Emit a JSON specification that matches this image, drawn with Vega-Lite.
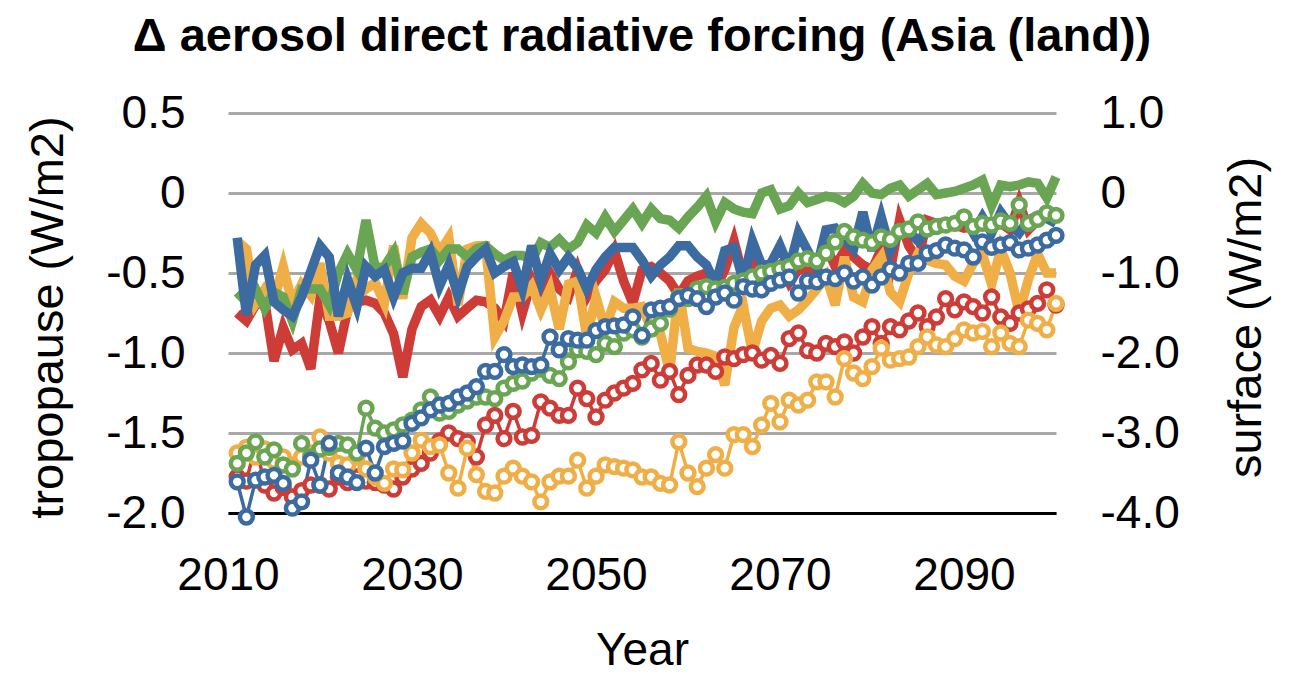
{
"$schema": "https://vega.github.io/schema/vega-lite/v6.json",
"width": 828,
"height": 400,
"autosize": {"type": "none"},
"padding": {"left": 228, "top": 113, "right": 235, "bottom": 161},
"background": "white",
"config": {"view": {"stroke": null}, "font": "Liberation Sans"},
"title": {"text": "Δ aerosol direct radiative forcing (Asia (land))", "fontSize": 47, "fontWeight": "bold", "font": "Liberation Sans", "color": "#000", "anchor": "middle", "frame": "group", "baseline": "alphabetic", "offset": -8},
"data": {"values": [
{"year":2011,"series":"red","tropopause":-0.75,"surface":-3.55},{"year":2012,"series":"red","tropopause":-0.80,"surface":-3.60},{"year":2013,"series":"red","tropopause":-0.70,"surface":-3.15},{"year":2014,"series":"red","tropopause":-0.68,"surface":-3.65},{"year":2015,"series":"red","tropopause":-1.05,"surface":-3.75},{"year":2016,"series":"red","tropopause":-0.84,"surface":-3.68},{"year":2017,"series":"red","tropopause":-0.98,"surface":-3.80},{"year":2018,"series":"red","tropopause":-0.94,"surface":-3.72},{"year":2019,"series":"red","tropopause":-1.10,"surface":-3.65},{"year":2020,"series":"red","tropopause":-0.66,"surface":-3.65},
{"year":2021,"series":"red","tropopause":-0.80,"surface":-3.70},{"year":2022,"series":"red","tropopause":-1.00,"surface":-3.55},{"year":2023,"series":"red","tropopause":-0.73,"surface":-3.62},{"year":2024,"series":"red","tropopause":-0.68,"surface":-3.55},{"year":2025,"series":"red","tropopause":-0.67,"surface":-3.60},{"year":2026,"series":"red","tropopause":-0.69,"surface":-3.62},{"year":2027,"series":"red","tropopause":-0.75,"surface":-3.65},{"year":2028,"series":"red","tropopause":-0.88,"surface":-3.70},{"year":2029,"series":"red","tropopause":-1.15,"surface":-3.55},{"year":2030,"series":"red","tropopause":-0.85,"surface":-3.45},
{"year":2031,"series":"red","tropopause":-0.71,"surface":-3.38},{"year":2032,"series":"red","tropopause":-0.67,"surface":-3.25},{"year":2033,"series":"red","tropopause":-0.77,"surface":-3.10},{"year":2034,"series":"red","tropopause":-0.65,"surface":-3.00},{"year":2035,"series":"red","tropopause":-0.77,"surface":-3.07},{"year":2036,"series":"red","tropopause":-0.72,"surface":-3.11},{"year":2037,"series":"red","tropopause":-0.67,"surface":-3.30},{"year":2038,"series":"red","tropopause":-0.68,"surface":-2.90},{"year":2039,"series":"red","tropopause":-0.72,"surface":-2.78},{"year":2040,"series":"red","tropopause":-0.80,"surface":-3.07},
{"year":2041,"series":"red","tropopause":-0.50,"surface":-2.73},{"year":2042,"series":"red","tropopause":-0.75,"surface":-3.05},{"year":2043,"series":"red","tropopause":-0.55,"surface":-3.03},{"year":2044,"series":"red","tropopause":-0.70,"surface":-2.61},{"year":2045,"series":"red","tropopause":-0.50,"surface":-2.69},{"year":2046,"series":"red","tropopause":-0.60,"surface":-2.78},{"year":2047,"series":"red","tropopause":-0.65,"surface":-2.78},{"year":2048,"series":"red","tropopause":-0.48,"surface":-2.44},{"year":2049,"series":"red","tropopause":-0.65,"surface":-2.57},{"year":2050,"series":"red","tropopause":-0.55,"surface":-2.80},
{"year":2051,"series":"red","tropopause":-0.48,"surface":-2.59},{"year":2052,"series":"red","tropopause":-0.36,"surface":-2.50},{"year":2053,"series":"red","tropopause":-0.55,"surface":-2.44},{"year":2054,"series":"red","tropopause":-0.69,"surface":-2.38},{"year":2055,"series":"red","tropopause":-0.48,"surface":-2.21},{"year":2056,"series":"red","tropopause":-0.46,"surface":-2.13},{"year":2057,"series":"red","tropopause":-0.50,"surface":-2.34},{"year":2058,"series":"red","tropopause":-0.55,"surface":-2.23},{"year":2059,"series":"red","tropopause":-0.64,"surface":-2.52},{"year":2060,"series":"red","tropopause":-0.55,"surface":-2.28},
{"year":2061,"series":"red","tropopause":-0.52,"surface":-2.15},{"year":2062,"series":"red","tropopause":-0.50,"surface":-2.15},{"year":2063,"series":"red","tropopause":-0.60,"surface":-2.23},{"year":2064,"series":"red","tropopause":-0.48,"surface":-2.05},{"year":2065,"series":"red","tropopause":-0.30,"surface":-2.07},{"year":2066,"series":"red","tropopause":-0.52,"surface":-2.02},{"year":2067,"series":"red","tropopause":-0.40,"surface":-2.00},{"year":2068,"series":"red","tropopause":-0.55,"surface":-2.09},{"year":2069,"series":"red","tropopause":-0.50,"surface":-2.03},{"year":2070,"series":"red","tropopause":-0.45,"surface":-2.13},
{"year":2071,"series":"red","tropopause":-0.56,"surface":-1.82},{"year":2072,"series":"red","tropopause":-0.48,"surface":-1.75},{"year":2073,"series":"red","tropopause":-0.47,"surface":-1.97},{"year":2074,"series":"red","tropopause":-0.48,"surface":-2.00},{"year":2075,"series":"red","tropopause":-0.33,"surface":-1.88},{"year":2076,"series":"red","tropopause":-0.46,"surface":-1.92},{"year":2077,"series":"red","tropopause":-0.36,"surface":-1.86},{"year":2078,"series":"red","tropopause":-0.40,"surface":-2.00},{"year":2079,"series":"red","tropopause":-0.45,"surface":-1.80},{"year":2080,"series":"red","tropopause":-0.48,"surface":-1.67},
{"year":2081,"series":"red","tropopause":-0.35,"surface":-1.88},{"year":2082,"series":"red","tropopause":-0.48,"surface":-1.67},{"year":2083,"series":"red","tropopause":-0.17,"surface":-1.71},{"year":2084,"series":"red","tropopause":-0.33,"surface":-1.60},{"year":2085,"series":"red","tropopause":-0.42,"surface":-1.50},{"year":2086,"series":"red","tropopause":-0.17,"surface":-1.67},{"year":2087,"series":"red","tropopause":-0.19,"surface":-1.55},{"year":2088,"series":"red","tropopause":-0.18,"surface":-1.32},{"year":2089,"series":"red","tropopause":-0.20,"surface":-1.46},{"year":2090,"series":"red","tropopause":-0.22,"surface":-1.36},
{"year":2091,"series":"red","tropopause":-0.21,"surface":-1.42},{"year":2092,"series":"red","tropopause":-0.20,"surface":-1.50},{"year":2093,"series":"red","tropopause":-0.22,"surface":-1.30},{"year":2094,"series":"red","tropopause":-0.19,"surface":-1.55},{"year":2095,"series":"red","tropopause":-0.23,"surface":-1.63},{"year":2096,"series":"red","tropopause":-0.06,"surface":-1.50},{"year":2097,"series":"red","tropopause":-0.23,"surface":-1.45},{"year":2098,"series":"red","tropopause":-0.17,"surface":-1.38},{"year":2099,"series":"red","tropopause":-0.13,"surface":-1.21},{"year":2100,"series":"red","tropopause":-0.15,"surface":-1.40},
{"year":2011,"series":"orange","tropopause":-0.30,"surface":-3.25},{"year":2012,"series":"orange","tropopause":-0.35,"surface":-3.18},{"year":2013,"series":"orange","tropopause":-0.69,"surface":-3.30},{"year":2014,"series":"orange","tropopause":-0.60,"surface":-3.20},{"year":2015,"series":"orange","tropopause":-0.67,"surface":-3.35},{"year":2016,"series":"orange","tropopause":-0.46,"surface":-3.30},{"year":2017,"series":"orange","tropopause":-0.69,"surface":-3.40},{"year":2018,"series":"orange","tropopause":-0.57,"surface":-3.30},{"year":2019,"series":"orange","tropopause":-0.64,"surface":-3.25},{"year":2020,"series":"orange","tropopause":-0.44,"surface":-3.05},
{"year":2021,"series":"orange","tropopause":-0.77,"surface":-3.25},{"year":2022,"series":"orange","tropopause":-0.77,"surface":-3.38},{"year":2023,"series":"orange","tropopause":-0.75,"surface":-3.40},{"year":2024,"series":"orange","tropopause":-0.54,"surface":-3.30},{"year":2025,"series":"orange","tropopause":-0.60,"surface":-3.45},{"year":2026,"series":"orange","tropopause":-0.56,"surface":-3.55},{"year":2027,"series":"orange","tropopause":-0.69,"surface":-3.63},{"year":2028,"series":"orange","tropopause":-0.33,"surface":-3.45},{"year":2029,"series":"orange","tropopause":-0.66,"surface":-3.46},{"year":2030,"series":"orange","tropopause":-0.28,"surface":-3.25},
{"year":2031,"series":"orange","tropopause":-0.19,"surface":-3.09},{"year":2032,"series":"orange","tropopause":-0.25,"surface":-3.17},{"year":2033,"series":"orange","tropopause":-0.37,"surface":-3.15},{"year":2034,"series":"orange","tropopause":-0.28,"surface":-3.50},{"year":2035,"series":"orange","tropopause":-0.70,"surface":-3.69},{"year":2036,"series":"orange","tropopause":-0.35,"surface":-3.19},{"year":2037,"series":"orange","tropopause":-0.33,"surface":-3.52},{"year":2038,"series":"orange","tropopause":-0.33,"surface":-3.73},{"year":2039,"series":"orange","tropopause":-0.90,"surface":-3.75},{"year":2040,"series":"orange","tropopause":-0.80,"surface":-3.54},
{"year":2041,"series":"orange","tropopause":-0.65,"surface":-3.44},{"year":2042,"series":"orange","tropopause":-0.65,"surface":-3.54},{"year":2043,"series":"orange","tropopause":-0.58,"surface":-3.61},{"year":2044,"series":"orange","tropopause":-0.73,"surface":-3.86},{"year":2045,"series":"orange","tropopause":-0.60,"surface":-3.61},{"year":2046,"series":"orange","tropopause":-0.85,"surface":-3.54},{"year":2047,"series":"orange","tropopause":-0.57,"surface":-3.54},{"year":2048,"series":"orange","tropopause":-0.55,"surface":-3.34},{"year":2049,"series":"orange","tropopause":-0.90,"surface":-3.69},{"year":2050,"series":"orange","tropopause":-0.65,"surface":-3.54},
{"year":2051,"series":"orange","tropopause":-0.85,"surface":-3.40},{"year":2052,"series":"orange","tropopause":-0.68,"surface":-3.42},{"year":2053,"series":"orange","tropopause":-0.72,"surface":-3.44},{"year":2054,"series":"orange","tropopause":-0.72,"surface":-3.46},{"year":2055,"series":"orange","tropopause":-0.71,"surface":-3.55},{"year":2056,"series":"orange","tropopause":-0.85,"surface":-3.55},{"year":2057,"series":"orange","tropopause":-0.88,"surface":-3.63},{"year":2058,"series":"orange","tropopause":-1.12,"surface":-3.65},{"year":2059,"series":"orange","tropopause":-0.60,"surface":-3.11},{"year":2060,"series":"orange","tropopause":-0.97,"surface":-3.50},
{"year":2061,"series":"orange","tropopause":-0.99,"surface":-3.67},{"year":2062,"series":"orange","tropopause":-1.00,"surface":-3.44},{"year":2063,"series":"orange","tropopause":-1.02,"surface":-3.27},{"year":2064,"series":"orange","tropopause":-1.20,"surface":-3.44},{"year":2065,"series":"orange","tropopause":-0.84,"surface":-3.02},{"year":2066,"series":"orange","tropopause":-0.70,"surface":-3.02},{"year":2067,"series":"orange","tropopause":-1.00,"surface":-3.17},{"year":2068,"series":"orange","tropopause":-0.80,"surface":-2.90},{"year":2069,"series":"orange","tropopause":-0.72,"surface":-2.63},{"year":2070,"series":"orange","tropopause":-0.70,"surface":-2.86},
{"year":2071,"series":"orange","tropopause":-0.77,"surface":-2.59},{"year":2072,"series":"orange","tropopause":-0.73,"surface":-2.65},{"year":2073,"series":"orange","tropopause":-0.67,"surface":-2.59},{"year":2074,"series":"orange","tropopause":-0.60,"surface":-2.36},{"year":2075,"series":"orange","tropopause":-0.52,"surface":-2.36},{"year":2076,"series":"orange","tropopause":-0.70,"surface":-2.55},{"year":2077,"series":"orange","tropopause":-0.40,"surface":-2.07},{"year":2078,"series":"orange","tropopause":-0.65,"surface":-2.25},{"year":2079,"series":"orange","tropopause":-0.68,"surface":-2.32},{"year":2080,"series":"orange","tropopause":-0.48,"surface":-2.17},
{"year":2081,"series":"orange","tropopause":-0.40,"surface":-1.94},{"year":2082,"series":"orange","tropopause":-0.62,"surface":-2.09},{"year":2083,"series":"orange","tropopause":-0.68,"surface":-2.07},{"year":2084,"series":"orange","tropopause":-0.50,"surface":-2.05},{"year":2085,"series":"orange","tropopause":-0.38,"surface":-1.92},{"year":2086,"series":"orange","tropopause":-0.42,"surface":-1.80},{"year":2087,"series":"orange","tropopause":-0.44,"surface":-1.90},{"year":2088,"series":"orange","tropopause":-0.45,"surface":-1.92},{"year":2089,"series":"orange","tropopause":-0.52,"surface":-1.82},{"year":2090,"series":"orange","tropopause":-0.55,"surface":-1.71},
{"year":2091,"series":"orange","tropopause":-0.44,"surface":-1.75},{"year":2092,"series":"orange","tropopause":-0.38,"surface":-1.73},{"year":2093,"series":"orange","tropopause":-0.57,"surface":-1.92},{"year":2094,"series":"orange","tropopause":-0.35,"surface":-1.75},{"year":2095,"series":"orange","tropopause":-0.50,"surface":-1.88},{"year":2096,"series":"orange","tropopause":-0.75,"surface":-1.92},{"year":2097,"series":"orange","tropopause":-0.54,"surface":-1.59},{"year":2098,"series":"orange","tropopause":-0.38,"surface":-1.63},{"year":2099,"series":"orange","tropopause":-0.50,"surface":-1.71},{"year":2100,"series":"orange","tropopause":-0.50,"surface":-1.38},
{"year":2011,"series":"green","tropopause":-0.62,"surface":-3.38},{"year":2012,"series":"green","tropopause":-0.68,"surface":-3.25},{"year":2013,"series":"green","tropopause":-0.60,"surface":-3.11},{"year":2014,"series":"green","tropopause":-0.72,"surface":-3.30},{"year":2015,"series":"green","tropopause":-0.62,"surface":-3.21},{"year":2016,"series":"green","tropopause":-0.65,"surface":-3.40},{"year":2017,"series":"green","tropopause":-0.80,"surface":-3.45},{"year":2018,"series":"green","tropopause":-0.60,"surface":-3.13},{"year":2019,"series":"green","tropopause":-0.60,"surface":-3.30},{"year":2020,"series":"green","tropopause":-0.60,"surface":-3.20},
{"year":2021,"series":"green","tropopause":-0.70,"surface":-3.18},{"year":2022,"series":"green","tropopause":-0.50,"surface":-3.13},{"year":2023,"series":"green","tropopause":-0.38,"surface":-3.15},{"year":2024,"series":"green","tropopause":-0.48,"surface":-3.25},{"year":2025,"series":"green","tropopause":-0.17,"surface":-2.69},{"year":2026,"series":"green","tropopause":-0.47,"surface":-2.94},{"year":2027,"series":"green","tropopause":-0.46,"surface":-3.00},{"year":2028,"series":"green","tropopause":-0.37,"surface":-2.96},{"year":2029,"series":"green","tropopause":-0.63,"surface":-2.90},{"year":2030,"series":"green","tropopause":-0.40,"surface":-2.84},
{"year":2031,"series":"green","tropopause":-0.37,"surface":-2.71},{"year":2032,"series":"green","tropopause":-0.35,"surface":-2.55},{"year":2033,"series":"green","tropopause":-0.42,"surface":-2.75},{"year":2034,"series":"green","tropopause":-0.35,"surface":-2.73},{"year":2035,"series":"green","tropopause":-0.35,"surface":-2.65},{"year":2036,"series":"green","tropopause":-0.40,"surface":-2.60},{"year":2037,"series":"green","tropopause":-0.35,"surface":-2.55},{"year":2038,"series":"green","tropopause":-0.33,"surface":-2.55},{"year":2039,"series":"green","tropopause":-0.38,"surface":-2.57},{"year":2040,"series":"green","tropopause":-0.42,"surface":-2.44},
{"year":2041,"series":"green","tropopause":-0.39,"surface":-2.38},{"year":2042,"series":"green","tropopause":-0.39,"surface":-2.35},{"year":2043,"series":"green","tropopause":-0.42,"surface":-2.25},{"year":2044,"series":"green","tropopause":-0.31,"surface":-2.20},{"year":2045,"series":"green","tropopause":-0.34,"surface":-2.28},{"year":2046,"series":"green","tropopause":-0.29,"surface":-2.32},{"year":2047,"series":"green","tropopause":-0.35,"surface":-2.11},{"year":2048,"series":"green","tropopause":-0.31,"surface":-1.96},{"year":2049,"series":"green","tropopause":-0.20,"surface":-1.98},{"year":2050,"series":"green","tropopause":-0.25,"surface":-2.02},
{"year":2051,"series":"green","tropopause":-0.15,"surface":-1.88},{"year":2052,"series":"green","tropopause":-0.24,"surface":-1.92},{"year":2053,"series":"green","tropopause":-0.17,"surface":-1.75},{"year":2054,"series":"green","tropopause":-0.10,"surface":-1.71},{"year":2055,"series":"green","tropopause":-0.19,"surface":-1.80},{"year":2056,"series":"green","tropopause":-0.10,"surface":-1.70},{"year":2057,"series":"green","tropopause":-0.16,"surface":-1.63},{"year":2058,"series":"green","tropopause":-0.17,"surface":-1.45},{"year":2059,"series":"green","tropopause":-0.22,"surface":-1.30},{"year":2060,"series":"green","tropopause":-0.15,"surface":-1.32},
{"year":2061,"series":"green","tropopause":-0.09,"surface":-1.20},{"year":2062,"series":"green","tropopause":-0.02,"surface":-1.17},{"year":2063,"series":"green","tropopause":-0.18,"surface":-1.20},{"year":2064,"series":"green","tropopause":-0.06,"surface":-1.18},{"year":2065,"series":"green","tropopause":-0.10,"surface":-1.13},{"year":2066,"series":"green","tropopause":-0.12,"surface":-1.10},{"year":2067,"series":"green","tropopause":-0.13,"surface":-1.05},{"year":2068,"series":"green","tropopause":0.00,"surface":-1.00},{"year":2069,"series":"green","tropopause":0.02,"surface":-0.98},{"year":2070,"series":"green","tropopause":-0.10,"surface":-0.95},
{"year":2071,"series":"green","tropopause":-0.08,"surface":-0.92},{"year":2072,"series":"green","tropopause":0.00,"surface":-0.85},{"year":2073,"series":"green","tropopause":-0.06,"surface":-0.82},{"year":2074,"series":"green","tropopause":-0.04,"surface":-0.85},{"year":2075,"series":"green","tropopause":-0.02,"surface":-0.75},{"year":2076,"series":"green","tropopause":-0.03,"surface":-0.61},{"year":2077,"series":"green","tropopause":-0.06,"surface":-0.48},{"year":2078,"series":"green","tropopause":-0.02,"surface":-0.55},{"year":2079,"series":"green","tropopause":0.06,"surface":-0.59},{"year":2080,"series":"green","tropopause":0.00,"surface":-0.62},
{"year":2081,"series":"green","tropopause":-0.01,"surface":-0.55},{"year":2082,"series":"green","tropopause":0.03,"surface":-0.58},{"year":2083,"series":"green","tropopause":0.05,"surface":-0.48},{"year":2084,"series":"green","tropopause":-0.02,"surface":-0.45},{"year":2085,"series":"green","tropopause":0.02,"surface":-0.36},{"year":2086,"series":"green","tropopause":0.06,"surface":-0.45},{"year":2087,"series":"green","tropopause":-0.01,"surface":-0.42},{"year":2088,"series":"green","tropopause":0.00,"surface":-0.40},{"year":2089,"series":"green","tropopause":0.01,"surface":-0.38},{"year":2090,"series":"green","tropopause":0.03,"surface":-0.30},
{"year":2091,"series":"green","tropopause":0.05,"surface":-0.42},{"year":2092,"series":"green","tropopause":0.08,"surface":-0.38},{"year":2093,"series":"green","tropopause":-0.08,"surface":-0.40},{"year":2094,"series":"green","tropopause":0.05,"surface":-0.35},{"year":2095,"series":"green","tropopause":0.04,"surface":-0.38},{"year":2096,"series":"green","tropopause":0.05,"surface":-0.15},{"year":2097,"series":"green","tropopause":0.07,"surface":-0.38},{"year":2098,"series":"green","tropopause":0.06,"surface":-0.33},{"year":2099,"series":"green","tropopause":-0.03,"surface":-0.25},{"year":2100,"series":"green","tropopause":0.10,"surface":-0.28},
{"year":2011,"series":"blue","tropopause":-0.28,"surface":-3.61},{"year":2012,"series":"blue","tropopause":-0.76,"surface":-4.05},{"year":2013,"series":"blue","tropopause":-0.45,"surface":-3.59},{"year":2014,"series":"blue","tropopause":-0.39,"surface":-3.55},{"year":2015,"series":"blue","tropopause":-0.68,"surface":-3.53},{"year":2016,"series":"blue","tropopause":-0.73,"surface":-3.63},{"year":2017,"series":"blue","tropopause":-0.77,"surface":-3.94},{"year":2018,"series":"blue","tropopause":-0.65,"surface":-3.86},{"year":2019,"series":"blue","tropopause":-0.49,"surface":-3.34},{"year":2020,"series":"blue","tropopause":-0.33,"surface":-3.65},
{"year":2021,"series":"blue","tropopause":-0.40,"surface":-3.13},{"year":2022,"series":"blue","tropopause":-0.77,"surface":-3.50},{"year":2023,"series":"blue","tropopause":-0.54,"surface":-3.55},{"year":2024,"series":"blue","tropopause":-0.71,"surface":-3.62},{"year":2025,"series":"blue","tropopause":-0.46,"surface":-3.19},{"year":2026,"series":"blue","tropopause":-0.52,"surface":-3.50},{"year":2027,"series":"blue","tropopause":-0.48,"surface":-3.17},{"year":2028,"series":"blue","tropopause":-0.65,"surface":-3.13},{"year":2029,"series":"blue","tropopause":-0.50,"surface":-3.10},{"year":2030,"series":"blue","tropopause":-0.47,"surface":-2.88},
{"year":2031,"series":"blue","tropopause":-0.47,"surface":-2.81},{"year":2032,"series":"blue","tropopause":-0.37,"surface":-2.71},{"year":2033,"series":"blue","tropopause":-0.58,"surface":-2.65},{"year":2034,"series":"blue","tropopause":-0.45,"surface":-2.63},{"year":2035,"series":"blue","tropopause":-0.64,"surface":-2.55},{"year":2036,"series":"blue","tropopause":-0.46,"surface":-2.50},{"year":2037,"series":"blue","tropopause":-0.40,"surface":-2.42},{"year":2038,"series":"blue","tropopause":-0.35,"surface":-2.23},{"year":2039,"series":"blue","tropopause":-0.50,"surface":-2.23},{"year":2040,"series":"blue","tropopause":-0.46,"surface":-2.02},
{"year":2041,"series":"blue","tropopause":-0.43,"surface":-2.17},{"year":2042,"series":"blue","tropopause":-0.60,"surface":-2.15},{"year":2043,"series":"blue","tropopause":-0.33,"surface":-2.17},{"year":2044,"series":"blue","tropopause":-0.55,"surface":-2.15},{"year":2045,"series":"blue","tropopause":-0.38,"surface":-1.80},{"year":2046,"series":"blue","tropopause":-0.48,"surface":-1.96},{"year":2047,"series":"blue","tropopause":-0.40,"surface":-1.82},{"year":2048,"series":"blue","tropopause":-0.47,"surface":-1.84},{"year":2049,"series":"blue","tropopause":-0.60,"surface":-1.84},{"year":2050,"series":"blue","tropopause":-0.48,"surface":-1.72},
{"year":2051,"series":"blue","tropopause":-0.40,"surface":-1.67},{"year":2052,"series":"blue","tropopause":-0.34,"surface":-1.66},{"year":2053,"series":"blue","tropopause":-0.34,"surface":-1.65},{"year":2054,"series":"blue","tropopause":-0.34,"surface":-1.55},{"year":2055,"series":"blue","tropopause":-0.42,"surface":-1.78},{"year":2056,"series":"blue","tropopause":-0.52,"surface":-1.46},{"year":2057,"series":"blue","tropopause":-0.45,"surface":-1.44},{"year":2058,"series":"blue","tropopause":-0.40,"surface":-1.42},{"year":2059,"series":"blue","tropopause":-0.33,"surface":-1.32},{"year":2060,"series":"blue","tropopause":-0.33,"surface":-1.28},
{"year":2061,"series":"blue","tropopause":-0.40,"surface":-1.32},{"year":2062,"series":"blue","tropopause":-0.45,"surface":-1.42},{"year":2063,"series":"blue","tropopause":-0.57,"surface":-1.30},{"year":2064,"series":"blue","tropopause":-0.36,"surface":-1.25},{"year":2065,"series":"blue","tropopause":-0.34,"surface":-1.34},{"year":2066,"series":"blue","tropopause":-0.55,"surface":-1.17},{"year":2067,"series":"blue","tropopause":-0.30,"surface":-1.20},{"year":2068,"series":"blue","tropopause":-0.45,"surface":-1.21},{"year":2069,"series":"blue","tropopause":-0.44,"surface":-1.13},{"year":2070,"series":"blue","tropopause":-0.33,"surface":-1.09},
{"year":2071,"series":"blue","tropopause":-0.47,"surface":-1.05},{"year":2072,"series":"blue","tropopause":-0.25,"surface":-1.25},{"year":2073,"series":"blue","tropopause":-0.36,"surface":-1.10},{"year":2074,"series":"blue","tropopause":-0.47,"surface":-1.11},{"year":2075,"series":"blue","tropopause":-0.23,"surface":-1.05},{"year":2076,"series":"blue","tropopause":-0.22,"surface":-1.07},{"year":2077,"series":"blue","tropopause":-0.29,"surface":-1.00},{"year":2078,"series":"blue","tropopause":-0.35,"surface":-1.10},{"year":2079,"series":"blue","tropopause":-0.12,"surface":-1.05},{"year":2080,"series":"blue","tropopause":-0.36,"surface":-1.15},
{"year":2081,"series":"blue","tropopause":-0.15,"surface":-1.05},{"year":2082,"series":"blue","tropopause":-0.36,"surface":-0.95},{"year":2083,"series":"blue","tropopause":-0.23,"surface":-1.00},{"year":2084,"series":"blue","tropopause":-0.24,"surface":-0.88},{"year":2085,"series":"blue","tropopause":-0.30,"surface":-0.88},{"year":2086,"series":"blue","tropopause":-0.24,"surface":-0.75},{"year":2087,"series":"blue","tropopause":-0.22,"surface":-0.72},{"year":2088,"series":"blue","tropopause":-0.19,"surface":-0.65},{"year":2089,"series":"blue","tropopause":-0.20,"surface":-0.69},{"year":2090,"series":"blue","tropopause":-0.15,"surface":-0.71},
{"year":2091,"series":"blue","tropopause":-0.25,"surface":-0.80},{"year":2092,"series":"blue","tropopause":-0.15,"surface":-0.61},{"year":2093,"series":"blue","tropopause":-0.25,"surface":-0.68},{"year":2094,"series":"blue","tropopause":-0.12,"surface":-0.65},{"year":2095,"series":"blue","tropopause":-0.20,"surface":-0.62},{"year":2096,"series":"blue","tropopause":-0.25,"surface":-0.71},{"year":2097,"series":"blue","tropopause":-0.17,"surface":-0.69},{"year":2098,"series":"blue","tropopause":-0.14,"surface":-0.65},{"year":2099,"series":"blue","tropopause":-0.16,"surface":-0.59},{"year":2100,"series":"blue","tropopause":-0.19,"surface":-0.53}
]},
"encoding": {
  "x": {"field": "year", "type": "quantitative", "scale": {"domain": [2010, 2100], "nice": false, "zero": false},
    "axis": {"values": [2010, 2030, 2050, 2070, 2090], "format": "d", "title": "Year", "grid": false, "ticks": false, "domainColor": "#000", "domainWidth": 3, "labelFontSize": 46, "labelColor": "#000", "labelPadding": 40, "labelFlush": false, "labelFont": "Liberation Sans", "titleFont": "Liberation Sans", "titleFontSize": 46, "titleFontWeight": "normal", "titleColor": "#000", "titleY": 151, "titleBaseline": "alphabetic"}},
  "color": {"field": "series", "type": "nominal", "scale": {"domain": ["red", "orange", "green", "blue"], "range": ["#CD3C36", "#F0AE47", "#6AA553", "#3C6BA2"]}, "legend": null}
},
"layer": [
  {
    "mark": {"type": "line", "strokeWidth": 9.5, "strokeJoin": "miter", "clip": false},
    "encoding": {
      "y": {"field": "tropopause", "type": "quantitative", "scale": {"domain": [-2, 0.5], "nice": false, "zero": false},
        "axis": {"title": "tropopause (W/m2)", "values": [-2, -1.5, -1, -0.5, 0, 0.5], "labelExpr": "datum.value == 0 ? '0' : replace(format(datum.value, '.1f'), '−', '-')", "grid": true, "gridColor": "#A8A8A8", "gridWidth": 3, "domain": false, "ticks": false, "labelFontSize": 46, "labelColor": "#000", "labelPadding": 43, "labelFont": "Liberation Sans", "titleFont": "Liberation Sans", "titleFontSize": 47, "titleFontWeight": "normal", "titleColor": "#000", "titleAngle": -90, "titleX": -166, "titleY": 204, "titleBaseline": "alphabetic", "titleAlign": "center"}}
    }
  },
  {
    "encoding": {
      "y": {"field": "surface", "type": "quantitative", "scale": {"domain": [-4, 1], "nice": false, "zero": false},
        "axis": {"orient": "right", "title": "surface (W/m2)", "values": [-4, -3, -2, -1, 0, 1], "labelExpr": "datum.value == 0 ? '0' : replace(format(datum.value, '.1f'), '−', '-')", "grid": false, "domain": false, "ticks": false, "labelFontSize": 46, "labelColor": "#000", "labelPadding": 44, "labelFont": "Liberation Sans", "titleFont": "Liberation Sans", "titleFontSize": 47, "titleFontWeight": "normal", "titleColor": "#000", "titleAngle": 270, "titleX": 204, "titleY": 204, "titleBaseline": "alphabetic", "titleAlign": "center"}}
    },
    "layer": [
      {"mark": {"type": "line", "strokeWidth": 3.5, "strokeJoin": "miter"}},
      {"mark": {"type": "point", "shape": "circle", "filled": false, "fill": "white", "fillOpacity": 1, "opacity": 1, "size": 165, "strokeWidth": 4.5}}
    ]
  }
],
"resolve": {"scale": {"y": "independent"}}
}
